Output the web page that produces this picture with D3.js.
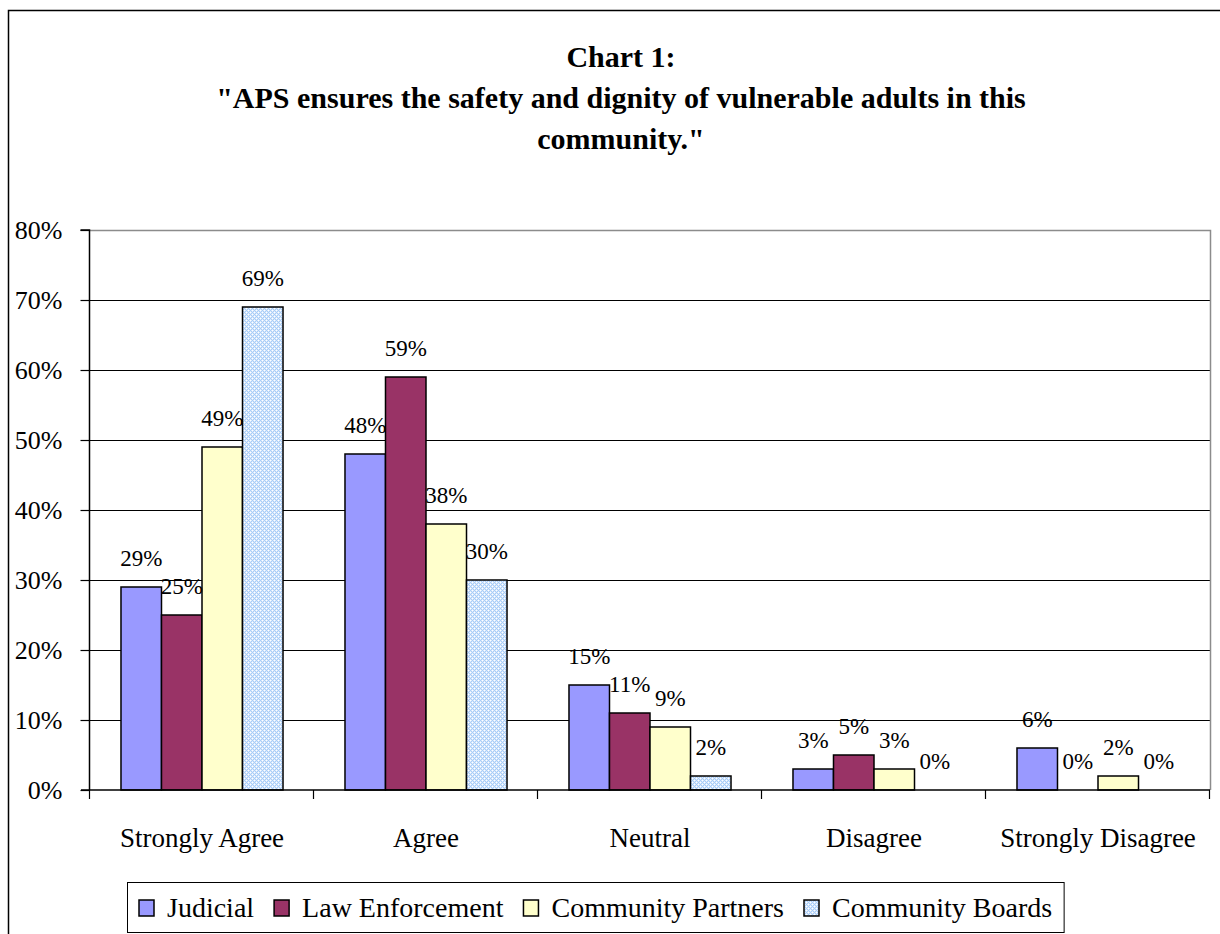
<!DOCTYPE html>
<html>
<head>
<meta charset="utf-8">
<script src="https://cdn.jsdelivr.net/npm/d3@7"></script>
<style>
  html, body { margin: 0; padding: 0; background: #fff; }
  svg { display: block; }
</style>
</head>
<body>
<svg id="chart" width="1220" height="934"></svg>
<script>
// Survey responses by respondent group (share of respondents)
const categories = ["Strongly Agree", "Agree", "Neutral", "Disagree", "Strongly Disagree"];
const seriesNames = ["Judicial", "Law Enforcement", "Community Partners", "Community Boards"];
const judicial = [0.29, 0.48, 0.15, 0.03, 0.06];
const lawEnforcement = [0.25, 0.59, 0.11, 0.05, 0.00];
const communityPartners = [0.49, 0.38, 0.09, 0.03, 0.02];
const communityBoards = [0.69, 0.30, 0.02, 0.00, 0.00];
const yTicks = [0, 0.1, 0.2, 0.3, 0.4, 0.5, 0.6, 0.7, 0.8];
const titleLines = ["Chart 1:", "\"APS ensures the safety and dignity of vulnerable adults in this", "community.\""];

const seriesValues = [judicial, lawEnforcement, communityPartners, communityBoards];
const FONT = "'Liberation Serif', 'Times New Roman', Times, serif";

const svg = d3.select("#chart");
const W = 1220, H = 934;
const plot = { left: 90, right: 1210, top: 230, bottom: 790 };

// Light blue lattice pattern used for the Community Boards bars
const defs = svg.append("defs");
const pat = defs.append("pattern")
  .attr("id", "boardsPattern")
  .attr("patternUnits", "userSpaceOnUse")
  .attr("width", 4).attr("height", 4);
pat.append("rect").attr("width", 4).attr("height", 4).attr("fill", "#a9cdf7");
[[0, 0, "#ffffff"], [2, 2, "#ffffff"],
 [1, 0, "#d9e9fd"], [0, 1, "#d9e9fd"], [3, 0, "#d9e9fd"], [0, 3, "#d9e9fd"],
 [3, 2, "#d9e9fd"], [2, 3, "#d9e9fd"], [1, 2, "#d9e9fd"], [2, 1, "#d9e9fd"]]
  .forEach(([px, py, c]) => pat.append("rect")
    .attr("x", px).attr("y", py).attr("width", 1).attr("height", 1).attr("fill", c));

const fills = ["#9999ff", "#993366", "#ffffcc", "url(#boardsPattern)"];
const color = d3.scaleOrdinal().domain(seriesNames).range(fills);

// Background and outer frame
svg.append("rect").attr("width", W).attr("height", H).attr("fill", "#fff");
svg.append("rect")
  .attr("x", 8.5).attr("y", 10.5).attr("width", 1240).attr("height", 960)
  .attr("fill", "none").attr("stroke", "#000").attr("stroke-width", 1.5);

// Title
const title = svg.append("text")
  .style("font-family", FONT)
  .attr("text-anchor", "middle")
  .attr("font-weight", "bold")
  .attr("font-size", 30);
title.selectAll("tspan").data(titleLines).join("tspan")
  .attr("x", 621)
  .attr("y", (d, i) => 67 + i * 41)
  .text(d => d);

// Scales
const x0 = d3.scaleBand().domain(categories).range([plot.left, plot.right]).padding(0);
const x1 = d3.scaleBand().domain(seriesNames).range([0, x0.bandwidth()])
  .paddingInner(0).paddingOuter(0.765);
const y = d3.scaleLinear().domain([0, 0.8]).range([plot.bottom, plot.top]);

// Gridlines
svg.append("g")
  .selectAll("line")
  .data(yTicks.filter(t => t > 0 && t < 0.8))
  .join("line")
  .attr("x1", plot.left).attr("x2", plot.right)
  .attr("y1", d => Math.round(y(d)) + 0.5).attr("y2", d => Math.round(y(d)) + 0.5)
  .attr("stroke", "#000").attr("stroke-width", 1);

// Plot area border (top and right)
svg.append("path")
  .attr("d", `M${plot.left},${plot.top + 0.5}H${plot.right + 0.5}V${plot.bottom}`)
  .attr("fill", "none").attr("stroke", "#8c8c8c").attr("stroke-width", 1.5);

// Bars
const groups = svg.append("g")
  .selectAll("g")
  .data(categories)
  .join("g")
  .attr("transform", d => `translate(${x0(d)},0)`);

groups.selectAll("rect")
  .data((c, ci) => seriesNames.map((s, si) => ({ series: s, value: seriesValues[si][ci] })))
  .join("rect")
  .filter(d => d.value > 0)
  .attr("x", d => x1(d.series))
  .attr("y", d => y(d.value))
  .attr("width", x1.bandwidth())
  .attr("height", d => y(0) - y(d.value))
  .attr("fill", d => color(d.series))
  .attr("stroke", "#000")
  .attr("stroke-width", 1.5);

// Value labels
groups.selectAll("text")
  .data((c, ci) => seriesNames.map((s, si) => ({ series: s, value: seriesValues[si][ci] })))
  .join("text")
  .style("font-family", FONT)
  .attr("x", d => x1(d.series) + x1.bandwidth() / 2)
  .attr("y", d => y(d.value) - 21)
  .attr("text-anchor", "middle")
  .attr("font-size", 23)
  .attr("fill", "#000")
  .text(d => d3.format(".0%")(d.value));

// Y axis
const yAxis = d3.axisLeft(y).tickValues(yTicks).tickFormat(d3.format(".0%"))
  .tickSize(9).tickPadding(18);
const yg = svg.append("g").attr("transform", `translate(${plot.left - 0.5},0)`).call(yAxis);
yg.attr("font-family", null).attr("font-size", null);
yg.select(".domain").attr("stroke", "#000").attr("stroke-width", 1.5)
  .attr("d", `M-9,${plot.top}H0V${plot.bottom}`);
yg.selectAll(".tick line").attr("stroke", "#000").attr("stroke-width", 1.2);
yg.selectAll(".tick text")
  .style("font-family", FONT)
  .attr("font-size", 26).attr("fill", "#000").attr("dy", "0.34em");

// X axis
const xg = svg.append("g").attr("transform", `translate(0,${plot.bottom})`);
xg.append("line").attr("x1", plot.left - 9).attr("x2", plot.right)
  .attr("y1", 0).attr("y2", 0).attr("stroke", "#000").attr("stroke-width", 1.5);
const boundaries = categories.map(c => x0(c)).concat([plot.right]);
xg.selectAll("line.tick").data(boundaries).join("line")
  .attr("class", "tick")
  .attr("x1", d => Math.round(d) - 0.5).attr("x2", d => Math.round(d) - 0.5)
  .attr("y1", 0).attr("y2", 9)
  .attr("stroke", "#000").attr("stroke-width", 1.2);
xg.selectAll("text").data(categories).join("text")
  .style("font-family", FONT)
  .attr("x", d => x0(d) + x0.bandwidth() / 2)
  .attr("y", 57)
  .attr("text-anchor", "middle")
  .attr("font-size", 27)
  .attr("fill", "#000")
  .text(d => d);

// Legend
const legend = svg.append("g");
const legendBox = legend.append("rect")
  .attr("fill", "#fff").attr("stroke", "#000").attr("stroke-width", 1);
let lx = 139;
const legendY = 900;
seriesNames.forEach((s, i) => {
  legend.append("rect")
    .attr("x", lx).attr("y", legendY).attr("width", 15).attr("height", 16)
    .attr("fill", color(s)).attr("stroke", "#000").attr("stroke-width", 1.5);
  const t = legend.append("text")
    .style("font-family", FONT)
    .attr("x", lx + 28).attr("y", legendY + 17)
    .attr("font-size", 28)
    .attr("fill", "#000")
    .text(s);
  lx = lx + 28 + t.node().getComputedTextLength() + 20;
});
legendBox.attr("x", 127.5).attr("y", 882.5)
  .attr("width", lx - 20 + 12 - 127.5).attr("height", 50);
</script>
</body>
</html>
